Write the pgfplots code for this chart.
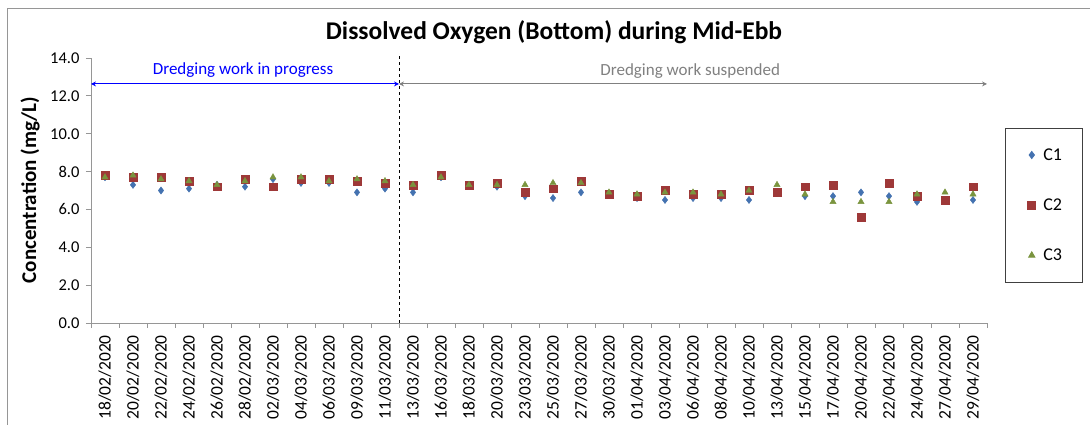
\documentclass[border=0pt]{standalone}
\usepackage{pgfplots}
\pgfplotsset{compat=1.18}
\usepackage{fontspec}
\setmainfont{Carlito}
\usetikzlibrary{arrows.meta}
\definecolor{cone}{RGB}{68,114,176}
\definecolor{ctwo}{RGB}{158,56,56}
\definecolor{cthree}{RGB}{122,148,62}
\definecolor{axgray}{RGB}{150,150,150}
\begin{document}
\begin{tikzpicture}
\path[use as bounding box] (0,0) rectangle (1090pt,425pt);
\draw[axgray, line width=0.8pt] (7pt,0pt) -- (7pt,417pt) -- (1090pt,417pt);
\node[font=\fontsize{25.5}{30}\selectfont\bfseries] at (554pt,393pt) {Dissolved Oxygen (Bottom) during Mid-Ebb};
\node[rotate=90, font=\fontsize{21}{24}\selectfont\bfseries] at (30pt,235pt) {Concentration (mg/L)};
\begin{axis}[
  at={(91pt,102pt)}, anchor=south west,
  scale only axis, width=896pt, height=265pt,
  xmin=-0.5, xmax=31.5, ymin=0, ymax=14,
  axis lines=left, axis line style={-, draw=axgray, line width=0.8pt},
  xtick={0,...,31},
  xticklabels={18/02/2020,20/02/2020,22/02/2020,24/02/2020,26/02/2020,28/02/2020,02/03/2020,04/03/2020,06/03/2020,09/03/2020,11/03/2020,13/03/2020,16/03/2020,18/03/2020,20/03/2020,23/03/2020,25/03/2020,27/03/2020,30/03/2020,01/04/2020,03/04/2020,06/04/2020,08/04/2020,10/04/2020,13/04/2020,15/04/2020,17/04/2020,20/04/2020,22/04/2020,24/04/2020,27/04/2020,29/04/2020},
  major x tick style={draw=none},
  minor xtick={-0.5,0.5,...,31.5},
  minor tick length=5pt, major tick length=5pt,
  tick align=outside,
  tick style={draw=axgray, line width=0.8pt},
  x tick label style={rotate=90, anchor=east, font=\fontsize{17.5}{19}\selectfont, inner sep=2pt},
  xticklabel shift=5pt,
  ytick={0,2,...,14},
  y tick label style={font=\fontsize{16.5}{18}\selectfont},
  yticklabel shift=3pt,
  yticklabel style={/pgf/number format/.cd, fixed, fixed zerofill, precision=1, assume math mode=true},
  clip=false,
  legend style={at={(1.0201,0.7358)}, anchor=north west, draw=black!75, line width=0.8pt,
    font=\fontsize{18}{21}\selectfont, row sep=33pt, inner xsep=18pt, inner ysep=18pt,
    cells={anchor=west}},
  legend image code/.code={\path (0cm,0cm) (0.6cm,0cm); \draw[#1] plot coordinates {(0.28cm,0cm)};},
]
\addplot[only marks, mark=diamond*, mark size=3.6pt, color=cone, mark options={fill=cone, draw=cone}] coordinates {
(0,7.7)(1,7.3)(2,7.0)(3,7.1)(4,7.3)(5,7.2)(6,7.6)(7,7.4)(8,7.4)(9,6.9)(10,7.1)(11,6.9)(12,7.7)(13,7.3)(14,7.2)(15,6.7)(16,6.6)(17,6.9)(18,6.8)(19,6.6)(20,6.5)(21,6.6)(22,6.6)(23,6.5)(24,6.9)(25,6.7)(26,6.7)(27,6.9)(28,6.7)(29,6.4)(30,6.5)(31,6.5)};
\addlegendentry{C1}
\addplot[only marks, mark=square*, mark size=3.9pt, color=ctwo, mark options={fill=ctwo, draw=ctwo}] coordinates {
(0,7.8)(1,7.7)(2,7.7)(3,7.5)(4,7.2)(5,7.6)(6,7.2)(7,7.6)(8,7.6)(9,7.5)(10,7.4)(11,7.3)(12,7.8)(13,7.3)(14,7.4)(15,6.9)(16,7.1)(17,7.5)(18,6.8)(19,6.7)(20,7.0)(21,6.8)(22,6.8)(23,7.0)(24,6.9)(25,7.2)(26,7.3)(27,5.6)(28,7.4)(29,6.7)(30,6.5)(31,7.2)};
\addlegendentry{C2}
\addplot[only marks, mark=triangle*, mark size=3.6pt, color=cthree, mark options={fill=cthree, draw=cthree}] coordinates {
(0,7.7)(1,7.8)(2,7.6)(3,7.5)(4,7.3)(5,7.5)(6,7.7)(7,7.7)(8,7.5)(9,7.6)(10,7.5)(11,7.3)(12,7.7)(13,7.3)(14,7.3)(15,7.3)(16,7.4)(17,7.4)(18,6.9)(19,6.8)(20,6.9)(21,6.9)(22,6.8)(23,7.0)(24,7.3)(25,6.8)(26,6.4)(27,6.4)(28,6.4)(29,6.8)(30,6.9)(31,6.8)};
\addlegendentry{C3}
\draw[black, dashed, line width=0.8pt] (axis cs:10.5,0) -- (axis cs:10.5,14.1);
\draw[blue, line width=1pt, {Stealth[length=5pt,width=5pt]}-{Stealth[length=5pt,width=5pt]}] (axis cs:-0.5,12.63) -- (axis cs:10.5,12.63);
\draw[gray, line width=1pt, {Stealth[length=5pt,width=5pt]}-{Stealth[length=5pt,width=5pt]}] (axis cs:10.5,12.63) -- (axis cs:31.5,12.63);
\node[blue, font=\fontsize{17}{20}\selectfont] at (axis cs:4.93,13.37) {Dredging work in progress};
\node[gray, font=\fontsize{17}{20}\selectfont] at (axis cs:20.9,13.3) {Dredging work suspended};
\end{axis}
\end{tikzpicture}
\end{document}
